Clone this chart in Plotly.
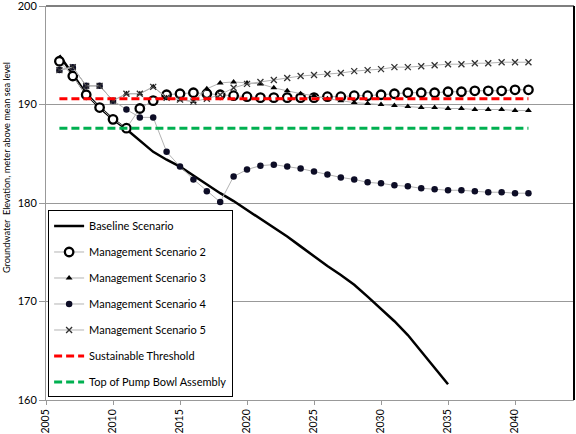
import plotly.graph_objects as go

years = list(range(2006, 2042))
base_years = list(range(2006, 2036))

baseline = [195.0, 193.0, 191.1, 189.7, 188.5, 187.5, 186.3, 185.2, 184.4, 183.7,
            182.8, 181.9, 181.0, 180.2, 179.3, 178.4, 177.5, 176.6, 175.6, 174.6,
            173.6, 172.7, 171.7, 170.5, 169.3, 168.0, 166.6, 164.9, 163.3, 161.6]

scen2 = [194.4, 192.9, 191.0, 189.7, 188.5, 187.6, 189.6, 190.4, 191.0, 191.1,
         191.2, 191.1, 191.0, 190.9, 190.8, 190.7, 190.7, 190.7, 190.7, 190.7,
         190.8, 190.8, 190.9, 190.9, 191.0, 191.1, 191.2, 191.2, 191.2, 191.3,
         191.3, 191.4, 191.4, 191.4, 191.5, 191.5]

scen3 = [193.5, 193.8, 191.9, 191.9, 190.4, 191.1, 191.1, 191.8, 190.7, 190.5,
         190.3, 191.6, 192.2, 192.3, 192.2, 192.1, 191.7, 191.4, 191.1, 190.9,
         190.6, 190.4, 190.2, 190.1, 190.0, 189.9, 189.8, 189.7, 189.7, 189.6,
         189.6, 189.5, 189.5, 189.5, 189.4, 189.4]

scen4 = [193.5, 193.8, 191.9, 191.9, 190.4, 189.5, 188.7, 188.7, 185.2, 183.7,
         182.4, 181.2, 180.1, 182.7, 183.4, 183.8, 183.9, 183.7, 183.5, 183.2,
         182.9, 182.6, 182.4, 182.1, 182.0, 181.8, 181.7, 181.5, 181.4, 181.3,
         181.3, 181.2, 181.1, 181.1, 181.0, 181.0]

scen5 = [193.5, 193.8, 191.9, 191.9, 190.4, 191.1, 191.1, 191.8, 190.7, 190.5,
         190.3, 190.6, 191.0, 191.7, 192.1, 192.3, 192.5, 192.7, 192.9, 193.0,
         193.1, 193.2, 193.4, 193.5, 193.6, 193.8, 193.8, 193.9, 194.0, 194.1,
         194.1, 194.2, 194.2, 194.3, 194.3, 194.3]

sustainable = [190.6] * len(years)
pump_bowl = [187.6] * len(years)

x_ticks = [2005, 2010, 2015, 2020, 2025, 2030, 2035, 2040]
y_ticks = [160, 170, 180, 190, 200]
y_title = "Groundwater  Elevation, meter above mean sea level"

FONT = "Lato"
GRAY = "#b3b3b3"

fig = go.Figure()

fig.add_trace(go.Scatter(x=base_years, y=baseline, mode="lines", name="Baseline Scenario",
                         line=dict(color="black", width=2.5), legendgroup="a"))
fig.add_trace(go.Scatter(x=years, y=scen2, mode="lines+markers", name="Management Scenario 2",
                         line=dict(color=GRAY, width=1),
                         marker=dict(symbol="circle", size=8.5, color="white",
                                     line=dict(color="black", width=2.3)), legendgroup="b"))
fig.add_trace(go.Scatter(x=years, y=scen3, mode="lines+markers", name="Management Scenario 3",
                         line=dict(color=GRAY, width=1),
                         marker=dict(symbol="triangle-up", size=6, color="black"), legendgroup="c"))
fig.add_trace(go.Scatter(x=years, y=scen4, mode="lines+markers", name="Management Scenario 4",
                         line=dict(color=GRAY, width=1),
                         marker=dict(symbol="circle", size=6.5, color="#0d0d26"), legendgroup="d"))
fig.add_trace(go.Scatter(x=years, y=scen5, mode="lines+markers", name="Management Scenario 5",
                         line=dict(color=GRAY, width=1),
                         marker=dict(symbol="x-thin-open", size=6, color="#333333",
                                     line=dict(color="#333333", width=1.3)), legendgroup="e"))
fig.add_trace(go.Scatter(x=years, y=sustainable, mode="lines", name="Sustainable Threshold",
                         line=dict(color="#ff0000", width=3, dash="8px,4px"), legendgroup="f"))
fig.add_trace(go.Scatter(x=years, y=pump_bowl, mode="lines", name="Top of Pump Bowl Assembly",
                         line=dict(color="#00b050", width=3, dash="8px,4px"), legendgroup="g"))

fig.update_layout(
    width=576, height=434,
    margin=dict(l=46, r=2, t=6, b=34),
    paper_bgcolor="white", plot_bgcolor="white",
    font=dict(family=FONT, size=11, color="black"),
    showlegend=True,
    legend=dict(x=0.004, y=0.481, xanchor="left", yanchor="top",
                bordercolor="black", borderwidth=1, bgcolor="white",
                font=dict(family=FONT, size=11), itemwidth=30,
                tracegroupgap=7),
    xaxis=dict(range=[2005, 2044.4], tickvals=x_ticks, tickangle=-90, automargin=False,
               showgrid=False, showline=True, linecolor="#999999", linewidth=1,
               ticks="outside", ticklen=4, tickcolor="#999999", zeroline=False,
               ticklabeloverflow="allow",
               tickfont=dict(family=FONT, size=10.5)),
    yaxis=dict(range=[160, 200.01], tickvals=y_ticks, automargin=False,
               showgrid=True, gridcolor="#999999", gridwidth=1,
               showline=True, linecolor="#999999", linewidth=1,
               ticks="outside", ticklen=6, tickcolor="#999999", zeroline=False,
               ticklabeloverflow="allow",
               tickfont=dict(family=FONT, size=11)),
    annotations=[
        dict(text=y_title, xref="paper", yref="paper", x=-0.0758, y=0.591,
             xanchor="center", yanchor="middle", textangle=-90, showarrow=False,
             font=dict(family=FONT, size=9.2, color="black")),
    ],
    shapes=[
        dict(type="line", xref="paper", yref="paper", x0=0, x1=1, y0=1, y1=1,
             line=dict(color="#555555", width=1.5)),
        dict(type="line", xref="paper", yref="paper", x0=1, x1=1, y0=0, y1=1,
             line=dict(color="black", width=2)),
    ],
)

fig.write_html("out.html", post_script="document.body.style.margin='0';",
               config={"displayModeBar": False})
